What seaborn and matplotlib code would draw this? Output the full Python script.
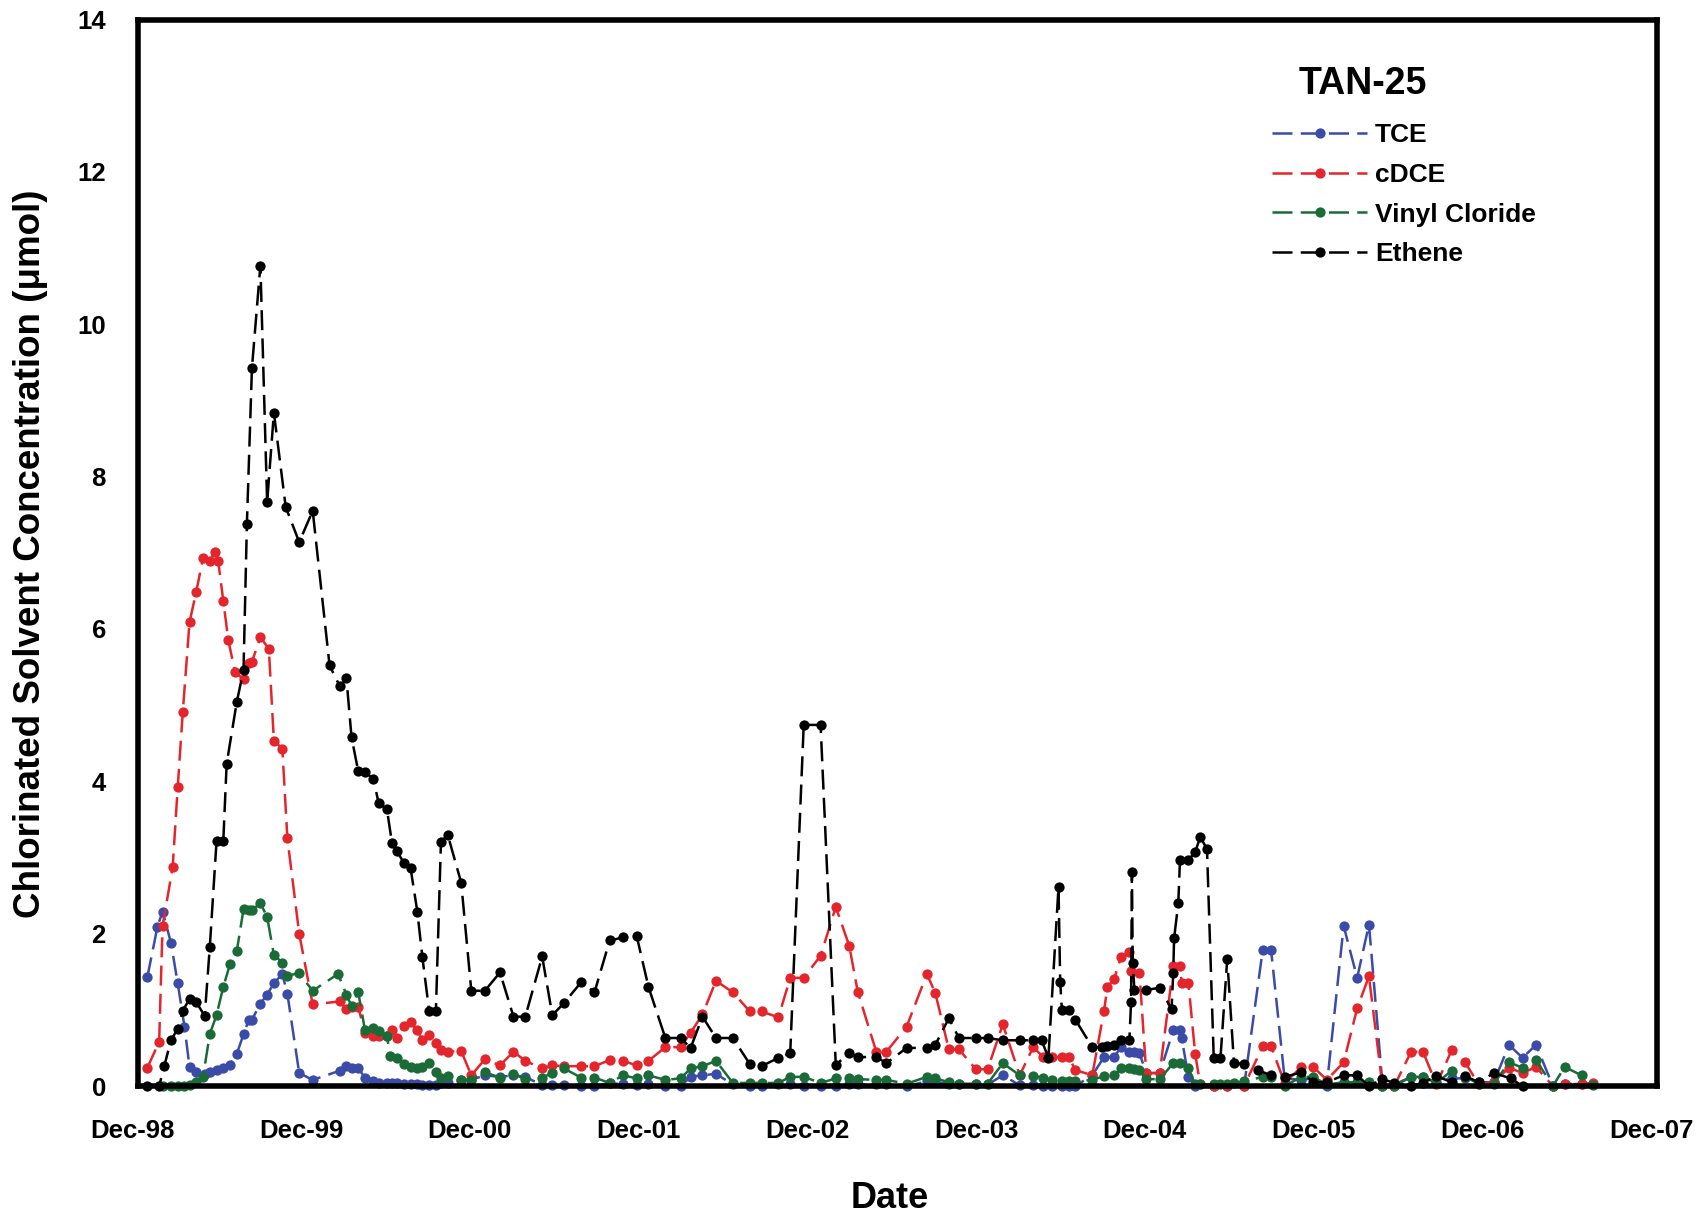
import numpy as np
import pandas as pd
import matplotlib
matplotlib.use("Agg")
import matplotlib.pyplot as plt
import matplotlib.transforms as mtransforms
from matplotlib.lines import Line2D
from matplotlib import font_manager
import seaborn as sns

# ---------------- data (decimal year, concentration in umol) ----------------
tce_t = [1998.97, 1999.03, 1999.06, 1999.11, 1999.15, 1999.19, 1999.22, 1999.26, 1999.31, 1999.34,
         1999.38, 1999.42, 1999.46, 1999.50, 1999.54, 1999.57, 1999.59, 1999.64, 1999.68, 1999.72,
         1999.77, 1999.80, 1999.87, 1999.95, 2000.11, 2000.15, 2000.18, 2000.22, 2000.26, 2000.31,
         2000.34, 2000.39, 2000.42, 2000.45, 2000.49, 2000.53, 2000.57, 2000.60, 2000.64, 2000.68,
         2000.71, 2000.75, 2000.83, 2000.89, 2000.97, 2001.06, 2001.14, 2001.21, 2001.31, 2001.37,
         2001.44, 2001.54, 2001.62, 2001.71, 2001.79, 2001.87, 2001.94, 2002.04, 2002.13, 2002.19,
         2002.26, 2002.34, 2002.44, 2002.54, 2002.61, 2002.71, 2002.78, 2002.86, 2002.96, 2003.05,
         2003.13, 2003.18, 2003.29, 2003.35, 2003.47, 2003.59, 2003.64, 2003.72, 2003.78, 2003.88,
         2003.95, 2004.04, 2004.14, 2004.22, 2004.28, 2004.33, 2004.39, 2004.43, 2004.47, 2004.57,
         2004.64, 2004.70, 2004.74, 2004.79, 2004.82, 2004.85, 2004.89, 2004.97, 2005.05, 2005.09,
         2005.10, 2005.14, 2005.18, 2005.29, 2005.37, 2005.47, 2005.58, 2005.63, 2005.71, 2005.81,
         2005.88, 2005.96, 2006.06, 2006.14, 2006.21, 2006.29, 2006.36, 2006.46, 2006.53, 2006.61,
         2006.70, 2006.78, 2006.86, 2006.95, 2007.04, 2007.12, 2007.20, 2007.30, 2007.37, 2007.47]
tce_v = [1.43, 2.09, 2.29, 1.88, 1.35, 0.78, 0.25, 0.18, 0.16, 0.19,
         0.21, 0.23, 0.28, 0.42, 0.68, 0.86, 0.87, 1.08, 1.20, 1.35,
         1.47, 1.21, 0.17, 0.08, 0.20, 0.26, 0.23, 0.23, 0.11, 0.06,
         0.04, 0.04, 0.04, 0.04, 0.03, 0.02, 0.02, 0.01, 0.01, 0.01,
         0.04, 0.04, 0.08, 0.08, 0.14, 0.12, 0.14, 0.12, 0.01, 0.01,
         0.01, 0.00, 0.00, 0.04, 0.02, 0.01, 0.02, 0.00, 0.00, 0.12,
         0.14, 0.16, 0.02, 0.00, 0.00, 0.02, 0.02, 0.00, 0.00, 0.00,
         0.02, 0.02, 0.02, 0.02, 0.00, 0.06, 0.05, 0.03, 0.02, 0.02,
         0.02, 0.14, 0.01, 0.01, 0.00, 0.00, 0.00, 0.00, 0.00, 0.14,
         0.38, 0.38, 0.51, 0.45, 0.45, 0.43, 0.17, 0.17, 0.73, 0.73,
         0.63, 0.12, 0.00, 0.00, 0.00, 0.00, 1.78, 1.78, 0.10, 0.08,
         0.10, 0.00, 2.10, 1.42, 2.12, 0.02, 0.02, 0.12, 0.12, 0.05,
         0.10, 0.10, 0.05, 0.05, 0.54, 0.37, 0.54, 0.00, 0.03, 0.03]

cdce_t = [1998.97, 1999.04, 1999.06, 1999.12, 1999.15, 1999.18, 1999.22, 1999.26, 1999.30, 1999.34,
          1999.37, 1999.39, 1999.42, 1999.45, 1999.49, 1999.54, 1999.57, 1999.59, 1999.64, 1999.69,
          1999.72, 1999.77, 1999.80, 1999.87, 1999.95, 2000.11, 2000.15, 2000.18, 2000.22, 2000.26,
          2000.31, 2000.34, 2000.39, 2000.42, 2000.45, 2000.49, 2000.53, 2000.57, 2000.60, 2000.64,
          2000.68, 2000.71, 2000.75, 2000.83, 2000.89, 2000.97, 2001.06, 2001.14, 2001.21, 2001.31,
          2001.37, 2001.44, 2001.54, 2001.62, 2001.71, 2001.79, 2001.87, 2001.94, 2002.04, 2002.13,
          2002.19, 2002.26, 2002.34, 2002.44, 2002.54, 2002.61, 2002.71, 2002.78, 2002.86, 2002.96,
          2003.05, 2003.13, 2003.18, 2003.29, 2003.35, 2003.47, 2003.59, 2003.64, 2003.72, 2003.78,
          2003.88, 2003.95, 2004.04, 2004.14, 2004.22, 2004.28, 2004.33, 2004.39, 2004.43, 2004.47,
          2004.57, 2004.64, 2004.66, 2004.70, 2004.74, 2004.79, 2004.80, 2004.85, 2004.89, 2004.97,
          2005.05, 2005.09, 2005.10, 2005.14, 2005.18, 2005.21, 2005.29, 2005.37, 2005.47, 2005.58,
          2005.63, 2005.71, 2005.81, 2005.88, 2005.96, 2006.06, 2006.14, 2006.21, 2006.29, 2006.36,
          2006.46, 2006.53, 2006.61, 2006.70, 2006.78, 2006.86, 2006.95, 2007.04, 2007.12, 2007.20,
          2007.30, 2007.37, 2007.47, 2007.54]
cdce_v = [0.24, 0.58, 2.10, 2.87, 3.92, 4.91, 6.09, 6.49, 6.93, 6.89,
          7.01, 6.89, 6.37, 5.85, 5.43, 5.34, 5.55, 5.57, 5.89, 5.74,
          4.53, 4.43, 3.25, 2.00, 1.07, 1.11, 1.01, 1.04, 1.04, 0.69,
          0.66, 0.65, 0.65, 0.74, 0.63, 0.79, 0.84, 0.73, 0.60, 0.67,
          0.56, 0.47, 0.45, 0.46, 0.14, 0.35, 0.27, 0.45, 0.33, 0.23,
          0.27, 0.26, 0.26, 0.26, 0.34, 0.33, 0.27, 0.33, 0.51, 0.51,
          0.70, 0.94, 1.38, 1.23, 0.98, 0.98, 0.90, 1.42, 1.42, 1.71,
          2.35, 1.84, 1.24, 0.45, 0.45, 0.78, 1.47, 1.22, 0.48, 0.48,
          0.22, 0.22, 0.81, 0.14, 0.51, 0.38, 0.38, 0.38, 0.38, 0.21,
          0.14, 0.99, 1.30, 1.41, 1.69, 1.76, 1.51, 1.48, 0.17, 0.17,
          1.57, 1.57, 1.35, 1.35, 0.42, 0.02, 0.00, 0.00, 0.00, 0.52,
          0.52, 0.04, 0.25, 0.25, 0.08, 0.31, 1.02, 1.44, 0.00, 0.00,
          0.45, 0.45, 0.02, 0.47, 0.31, 0.02, 0.05, 0.24, 0.17, 0.25,
          0.00, 0.02, 0.03, 0.04]

vc_t = [1999.06, 1999.11, 1999.15, 1999.19, 1999.22, 1999.26, 1999.30, 1999.34, 1999.38, 1999.42,
        1999.46, 1999.50, 1999.54, 1999.57, 1999.59, 1999.64, 1999.68, 1999.72, 1999.77, 1999.80,
        1999.87, 1999.95, 2000.10, 2000.15, 2000.18, 2000.22, 2000.26, 2000.31, 2000.34, 2000.39,
        2000.41, 2000.45, 2000.49, 2000.53, 2000.57, 2000.60, 2000.64, 2000.68, 2000.71, 2000.75,
        2000.83, 2000.89, 2000.97, 2001.06, 2001.14, 2001.21, 2001.31, 2001.37, 2001.44, 2001.54,
        2001.62, 2001.71, 2001.79, 2001.87, 2001.94, 2002.04, 2002.13, 2002.19, 2002.26, 2002.34,
        2002.44, 2002.54, 2002.61, 2002.71, 2002.78, 2002.86, 2002.96, 2003.05, 2003.13, 2003.18,
        2003.29, 2003.35, 2003.47, 2003.59, 2003.64, 2003.72, 2003.78, 2003.88, 2003.95, 2004.04,
        2004.14, 2004.22, 2004.28, 2004.33, 2004.39, 2004.43, 2004.47, 2004.57, 2004.64, 2004.70,
        2004.74, 2004.79, 2004.82, 2004.85, 2004.89, 2004.97, 2005.05, 2005.09, 2005.14, 2005.18,
        2005.21, 2005.29, 2005.33, 2005.37, 2005.41, 2005.47, 2005.58, 2005.63, 2005.71, 2005.81,
        2005.88, 2005.96, 2006.06, 2006.14, 2006.21, 2006.29, 2006.36, 2006.46, 2006.53, 2006.61,
        2006.70, 2006.78, 2006.86, 2006.95, 2007.04, 2007.12, 2007.20, 2007.30, 2007.37, 2007.47,
        2007.54]
vc_v = [0.00, 0.00, 0.00, 0.00, 0.01, 0.05, 0.12, 0.68, 0.93, 1.30,
        1.60, 1.77, 2.32, 2.31, 2.31, 2.40, 2.22, 1.72, 1.62, 1.45,
        1.48, 1.25, 1.47, 1.20, 1.05, 1.23, 0.73, 0.76, 0.72, 0.65,
        0.40, 0.37, 0.29, 0.25, 0.23, 0.25, 0.30, 0.19, 0.10, 0.13,
        0.08, 0.08, 0.18, 0.11, 0.16, 0.09, 0.11, 0.17, 0.23, 0.11,
        0.11, 0.04, 0.14, 0.10, 0.14, 0.08, 0.10, 0.23, 0.26, 0.33,
        0.04, 0.04, 0.04, 0.04, 0.12, 0.12, 0.04, 0.10, 0.11, 0.09,
        0.08, 0.08, 0.03, 0.12, 0.10, 0.05, 0.03, 0.03, 0.03, 0.30,
        0.14, 0.13, 0.11, 0.08, 0.06, 0.06, 0.06, 0.08, 0.13, 0.14,
        0.23, 0.23, 0.22, 0.21, 0.09, 0.09, 0.30, 0.30, 0.23, 0.02,
        0.02, 0.02, 0.02, 0.03, 0.04, 0.06, 0.12, 0.12, 0.00, 0.12,
        0.12, 0.02, 0.05, 0.05, 0.05, 0.00, 0.00, 0.12, 0.12, 0.04,
        0.20, 0.12, 0.03, 0.03, 0.31, 0.24, 0.34, 0.00, 0.25, 0.14,
        0.01]

eth_t = [1998.97, 1999.04, 1999.07, 1999.11, 1999.15, 1999.18, 1999.22, 1999.26, 1999.31, 1999.34,
         1999.38, 1999.42, 1999.44, 1999.50, 1999.54, 1999.56, 1999.59, 1999.64, 1999.68, 1999.72,
         1999.79, 1999.87, 1999.95, 2000.05, 2000.11, 2000.15, 2000.18, 2000.22, 2000.26, 2000.31,
         2000.34, 2000.39, 2000.42, 2000.45, 2000.49, 2000.53, 2000.57, 2000.60, 2000.64, 2000.68,
         2000.71, 2000.75, 2000.83, 2000.89, 2000.97, 2001.06, 2001.14, 2001.21, 2001.31, 2001.37,
         2001.44, 2001.54, 2001.62, 2001.71, 2001.79, 2001.87, 2001.94, 2002.04, 2002.13, 2002.19,
         2002.26, 2002.34, 2002.44, 2002.54, 2002.61, 2002.71, 2002.78, 2002.86, 2002.96, 2003.05,
         2003.13, 2003.18, 2003.29, 2003.35, 2003.47, 2003.59, 2003.64, 2003.72, 2003.78, 2003.88,
         2003.95, 2004.04, 2004.14, 2004.22, 2004.27, 2004.31, 2004.37, 2004.38, 2004.39, 2004.43,
         2004.47, 2004.57, 2004.63, 2004.66, 2004.70, 2004.74, 2004.79, 2004.80, 2004.805, 2004.81,
         2004.82, 2004.89, 2004.97, 2005.04, 2005.05, 2005.055, 2005.08, 2005.09, 2005.14, 2005.18,
         2005.21, 2005.25, 2005.29, 2005.33, 2005.37, 2005.41, 2005.47, 2005.55, 2005.63, 2005.71,
         2005.81, 2005.88, 2005.96, 2006.06, 2006.14, 2006.21, 2006.29, 2006.36, 2006.46, 2006.53,
         2006.61, 2006.70, 2006.78, 2006.86, 2006.95, 2007.05, 2007.12]
eth_v = [0.00, 0.00, 0.26, 0.60, 0.75, 0.99, 1.14, 1.10, 0.92, 1.82,
         3.21, 3.21, 4.23, 5.04, 5.46, 7.38, 9.43, 10.77, 7.66, 8.84,
         7.60, 7.14, 7.55, 5.52, 5.25, 5.35, 4.58, 4.13, 4.12, 4.03,
         3.72, 3.63, 3.19, 3.08, 2.93, 2.86, 2.29, 1.69, 0.99, 0.98,
         3.20, 3.30, 2.67, 1.25, 1.25, 1.49, 0.91, 0.91, 1.70, 0.93,
         1.09, 1.36, 1.23, 1.91, 1.95, 1.97, 1.30, 0.63, 0.63, 0.50,
         0.91, 0.63, 0.63, 0.29, 0.26, 0.37, 0.43, 4.74, 4.74, 0.28,
         0.43, 0.38, 0.38, 0.30, 0.50, 0.50, 0.54, 0.89, 0.63, 0.63,
         0.63, 0.60, 0.60, 0.60, 0.60, 0.37, 2.61, 1.37, 1.00, 1.00,
         0.87, 0.51, 0.51, 0.52, 0.54, 0.60, 0.60, 1.10, 2.81, 1.61,
         1.26, 1.26, 1.29, 1.01, 1.48, 1.94, 2.40, 2.97, 2.97, 3.07,
         3.27, 3.11, 0.37, 0.37, 1.67, 0.30, 0.29, 0.21, 0.14, 0.12,
         0.18, 0.05, 0.05, 0.14, 0.14, 0.00, 0.09, 0.04, 0.00, 0.04,
         0.13, 0.05, 0.13, 0.05, 0.17, 0.10, 0.00]

series_names = ["TCE", "cDCE", "Vinyl Cloride", "Ethene"]
series_colors = ["#3a4ba8", "#e4262c", "#1a6b37", "#000000"]
x_tick_pos = [1998.917 + k for k in range(10)]
x_tick_labels = ["Dec-98", "Dec-99", "Dec-00", "Dec-01", "Dec-02",
                 "Dec-03", "Dec-04", "Dec-05", "Dec-06", "Dec-07"]
y_ticks = [0, 2, 4, 6, 8, 10, 12, 14]

frames = []
for name, t, v in zip(series_names, [tce_t, cdce_t, vc_t, eth_t], [tce_v, cdce_v, vc_v, eth_v]):
    frames.append(pd.DataFrame({"Date": t, "Conc": v, "Species": name}))
df = pd.concat(frames, ignore_index=True)

# ---------------- styling ----------------
sns.set_theme(style="white")
plt.rcParams["font.family"] = ["Liberation Sans", "DejaVu Sans"]
plt.rcParams["font.weight"] = "bold"

fig = plt.figure(figsize=(16.96, 12.14), dpi=100)
ax = fig.add_axes([138.4 / 1696, 1 - 1086 / 1214, (1657 - 138.4) / 1696, (1086 - 19.5) / 1214])

LW = 1.8
MS = 7.4
dash = (0, (8, 3.3))

palette = dict(zip(series_names, series_colors))
sns.lineplot(data=df, x="Date", y="Conc", hue="Species", hue_order=series_names,
             palette=palette, estimator=None, sort=False, errorbar=None,
             marker="o", markersize=MS, markeredgewidth=0, linewidth=LW,
             legend=False, ax=ax)

for line, col in zip(ax.get_lines(), series_colors):
    line.set_linestyle(dash)
    line.set_markeredgecolor(col)
    line.set_markerfacecolor(col)
    line.set_clip_on(False)

ax.set_xlim(x_tick_pos[0], x_tick_pos[-1])
ax.set_ylim(0, 14)
ax.set_xticks(x_tick_pos)
ax.set_xticklabels(x_tick_labels)
ax.set_yticks(y_ticks)
ax.set_yticklabels([str(v) for v in y_ticks])
ax.tick_params(axis="both", direction="in", length=9, width=3, color="black",
               labelsize=18.5, labelcolor="black")
ax.tick_params(axis="x", pad=24)
ax.tick_params(axis="y", pad=23.5)
for lab in ax.get_xticklabels() + ax.get_yticklabels():
    lab.set_fontweight("bold")
offset = mtransforms.ScaledTranslation(-6 / 100, 0, fig.dpi_scale_trans)
for lab in ax.get_xticklabels():
    lab.set_transform(lab.get_transform() + offset)

for sp in ax.spines.values():
    sp.set_visible(True)
    sp.set_color("black")
    sp.set_linewidth(4)
ax.set_xlabel("")
ax.set_ylabel("")

# y label in a narrow bold face if available
avail = {f.name for f in font_manager.fontManager.ttflist}
if "Liberation Sans Narrow" in avail:
    yfam, ysize = ["Liberation Sans Narrow", "DejaVu Sans"], 32
else:
    yfam, ysize = ["Liberation Sans", "DejaVu Sans"], 26.5
fig.text(31 / 1696, 1 - 554 / 1214, "Chlorinated Solvent Concentration (\u03bcmol)",
         rotation=90, ha="center", va="center", fontsize=ysize, fontweight="bold",
         family=yfam, color="black")
fig.text(890 / 1696, 1 - 1199 / 1214, "Date", ha="center", va="center",
         fontsize=26, fontweight="bold", color="black")

# legend
ax.text(0.8064, 0.9395, "TAN-25", transform=ax.transAxes, ha="center", va="center",
        fontsize=27, fontweight="bold", color="black")
handles = [Line2D([], [], color=c, linestyle=dash, linewidth=LW, marker="o",
                  markersize=MS, markeredgewidth=0) for c in series_colors]
leg = ax.legend(handles, series_names, loc="upper left", bbox_to_anchor=(0.7465, 0.903),
                frameon=False, borderpad=0, borderaxespad=0, handlelength=3.6,
                handletextpad=0.3, labelspacing=0.60, markerfirst=True,
                prop={"weight": "bold", "size": 19})
for txt in leg.get_texts():
    txt.set_color("black")

fig.savefig("out.png", dpi=100)
